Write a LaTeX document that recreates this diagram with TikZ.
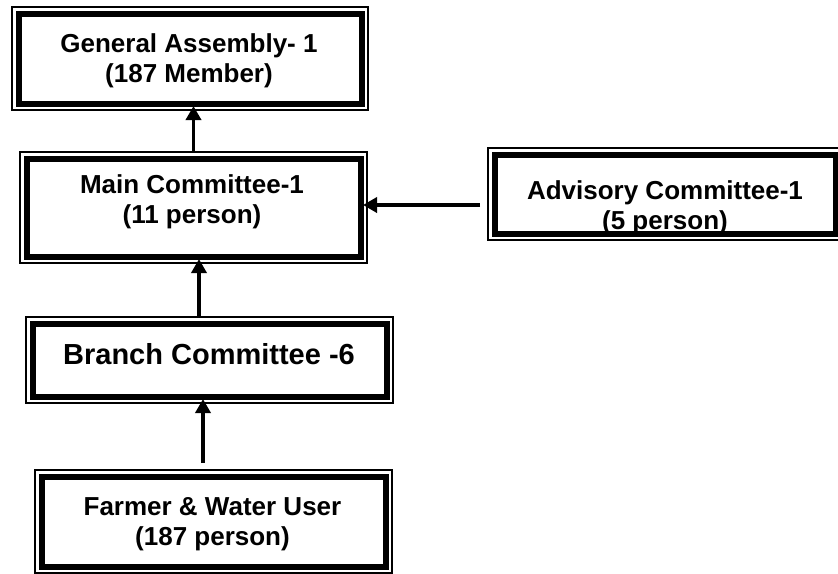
\documentclass[tikz,border=0pt]{standalone}
\usepackage{fontspec}
\setmainfont{Liberation Sans}
\usetikzlibrary{arrows.meta}
\begin{document}
\begin{tikzpicture}[x=1pt,y=-1pt,
  box/.style={draw, line width=1.3pt, outer sep=0pt, inner sep=0pt},
  frame/.style={line width=6pt},
  txt/.style={font=\bfseries\fontsize{26}{30}\selectfont, align=center, inner sep=0pt},
  bigtxt/.style={font=\bfseries\fontsize{29}{33}\selectfont, align=center, inner sep=0pt},
  arr/.style={line width=3.5pt, -{Triangle[length=14pt,width=15pt]}, shorten >=-4pt}]
\path[use as bounding box, clip] (0,0) rectangle (838,573);
\fill[white] (0,0) rectangle (838,573);
% outer thin boxes
\node[box, minimum width=356pt, minimum height=103pt] (ga) at (190,58.5) {};
\node[box, minimum width=347pt, minimum height=111pt] (main) at (193.5,207.5) {};
\node[box, minimum width=354pt, minimum height=92pt] (adv) at (665,194) {};
\node[box, minimum width=367pt, minimum height=86pt] (branch) at (209.5,360) {};
\node[box, minimum width=357pt, minimum height=103pt] (farmer) at (213.5,521.5) {};
% texts
\node[txt] (gat) at (189,61) {General Assembly- 1\\(187 Member)};
\node[txt] (maint) at (192,202) {Main Committee-1\\(11 person)};
\node[txt] (advt) at (665,208) {Advisory Committee-1\\(5 person)};
\node[bigtxt] (brancht) at (209,354.5) {Branch Committee -6};
\node[txt] (farmert) at (212.5,524) {Farmer \& Water User\\(187 person)};
% inner thick frames
\foreach \n in {ga,main,adv,branch,farmer}
  \draw[frame] ([xshift=6.5pt,yshift=-6.5pt]\n.north west) rectangle ([xshift=-6.5pt,yshift=6.5pt]\n.south east);
% connectors
\coordinate (b2m) at (199,317);
\coordinate (f2b) at (203,463);
\coordinate (a2m) at (480,205);
\draw[arr] (main.north) -- (main.north |- ga.south);
\draw[arr] (b2m) -- (b2m |- main.south);
\draw[arr] (f2b) -- (f2b |- branch.south);
\draw[arr] (a2m) -- (a2m -| main.east);
\end{tikzpicture}
\end{document}
